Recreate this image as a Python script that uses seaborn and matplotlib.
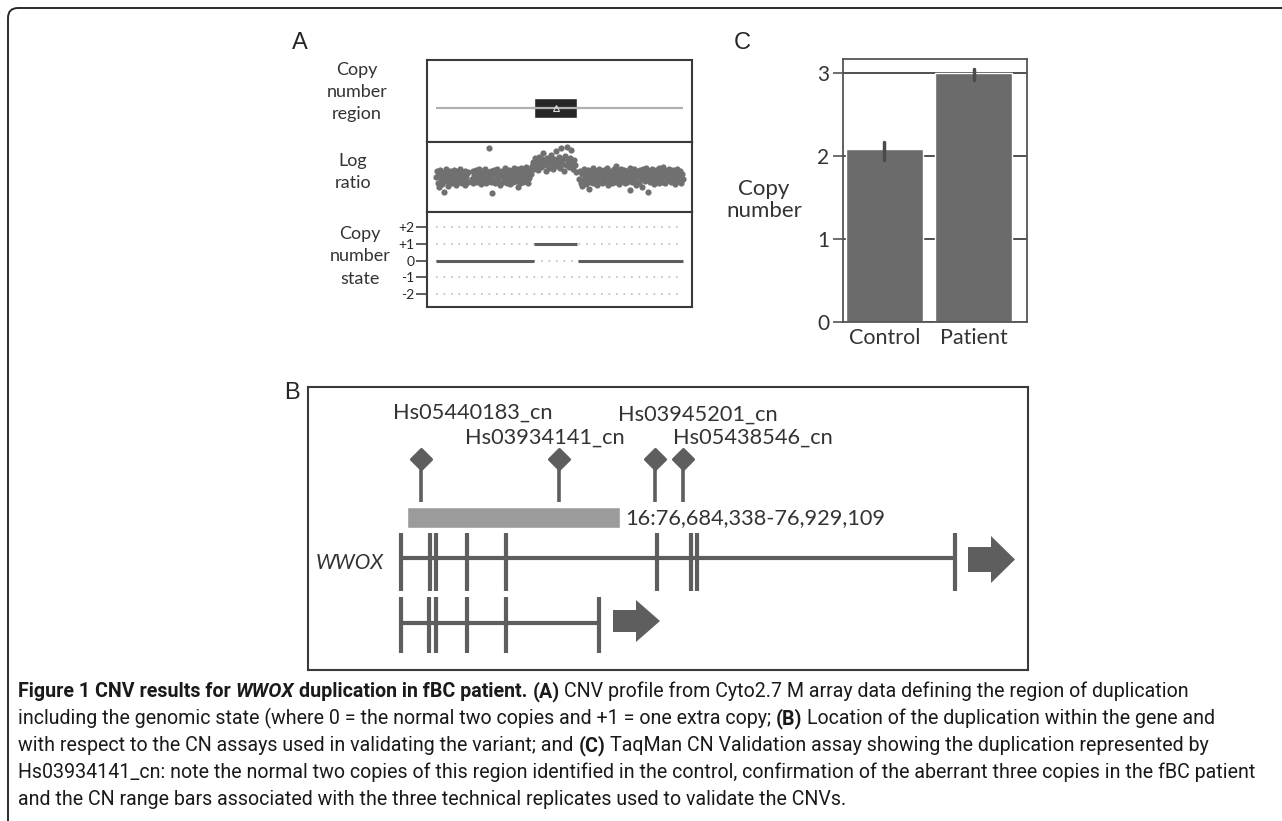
import matplotlib
matplotlib.use("Agg")
import matplotlib.pyplot as plt
import matplotlib.patches as mpatches
from matplotlib.markers import MarkerStyle
from matplotlib import font_manager as fm
import seaborn as sns
import pandas as pd

W, H = 1282, 821

# ---- panel A: CNV profile (x in % of the displayed window) ----
dup_region = (39.7, 57.1)
state_levels = [2, 1, 0, -1, -2]
state_labels = ["+2", "+1", "0", "-1", "-2"]
state_segments = [(0.0, 39.7, 0), (39.7, 57.1, 1), (57.5, 100.0, 0)]
log_ratio_pts = [
    (0.2, -0.02), (0.5, 0.08), (0.8, -0.12), (1.1, 0.03), (1.4, -0.20), (1.7, 0.10), (2.0, -0.06), (2.3, 0.05),
    (2.6, -0.14), (2.9, 0.01), (3.2, -0.27), (3.5, 0.07), (3.8, -0.09), (4.1, 0.11), (4.4, -0.03), (4.7, -0.17),
    (5.0, 0.04), (5.3, -0.11), (5.6, 0.09), (5.9, -0.05), (6.2, 0.02), (6.5, -0.13), (6.8, 0.06), (7.1, -0.08),
    (7.4, 0.10), (7.7, -0.01), (8.0, -0.15), (8.3, 0.05), (8.6, -0.06), (8.9, 0.08), (9.2, -0.10), (9.5, 0.00),
    (9.8, 0.12), (10.1, -0.04), (10.4, -0.12), (10.7, 0.06), (11.0, -0.07), (11.3, 0.03), (11.6, -0.16), (11.9, 0.09),
    (12.2, -0.02), (12.5, 0.04), (12.8, -0.10), (13.1, 0.07), (14.6, -0.05), (14.9, 0.08), (15.2, -0.13), (15.5, 0.02),
    (15.8, -0.07), (16.1, 0.10), (16.4, -0.03), (16.7, -0.11), (17.0, 0.05), (17.3, -0.08), (17.6, 0.12), (17.9, -0.01),
    (18.2, -0.14), (18.5, 0.06), (18.8, -0.05), (19.1, 0.09), (19.4, -0.09), (19.7, 0.01), (20.0, 0.11), (20.3, -0.12),
    (20.6, 0.04), (20.9, -0.06), (21.2, 0.07), (21.5, 0.47), (21.8, -0.02), (22.1, -0.10), (22.4, 0.08), (22.8, -0.29),
    (23.1, 0.03), (23.4, -0.07), (23.7, 0.10), (24.0, -0.13), (24.3, 0.05), (24.6, -0.04), (24.9, 0.12), (25.2, -0.09),
    (25.5, 0.02), (25.8, -0.15), (26.1, 0.07), (26.4, -0.01), (26.7, 0.09), (27.0, -0.11), (27.3, 0.04), (27.6, -0.06),
    (27.9, 0.13), (28.2, -0.08), (28.5, 0.01), (28.8, -0.12), (29.1, 0.06), (29.4, -0.03), (29.7, 0.10), (30.0, -0.14),
    (30.3, 0.03), (30.6, -0.05), (30.9, 0.08), (31.2, -0.10), (31.5, 0.14), (31.8, -0.02), (32.1, 0.05), (32.4, -0.09),
    (32.7, 0.11), (33.0, -0.06), (33.3, -0.20), (33.6, 0.07), (33.9, -0.12), (34.2, 0.02), (34.5, 0.13), (34.8, -0.04),
    (35.1, 0.09), (35.4, -0.10), (35.7, 0.04), (36.0, -0.07), (36.3, 0.15), (36.6, -0.01), (36.9, 0.10), (37.2, -0.13),
    (37.5, 0.06), (37.8, -0.03), (38.1, 0.12), (38.4, 0.03),
    (39.0, 0.16), (39.4, 0.24), (39.8, 0.12), (40.2, 0.30), (40.6, 0.19), (41.0, 0.26), (41.4, 0.10), (41.8, 0.33),
    (42.2, 0.21), (42.6, 0.15), (43.0, 0.28), (43.4, 0.39), (43.8, 0.18), (44.2, 0.24), (44.6, 0.08), (45.0, 0.31),
    (45.4, 0.22), (45.8, 0.14), (46.2, 0.27), (46.6, 0.35), (47.0, 0.20), (47.4, 0.11), (47.8, 0.29), (48.2, 0.23),
    (48.6, 0.42), (49.0, 0.17), (49.4, 0.26), (49.8, 0.32), (50.2, 0.13), (50.6, 0.47), (51.0, 0.21), (51.4, 0.28),
    (51.8, 0.09), (52.2, 0.34), (52.6, 0.19), (53.0, 0.50), (53.4, 0.25), (53.8, 0.15), (54.2, 0.30), (54.6, 0.44),
    (55.0, 0.20), (55.4, 0.12), (55.8, 0.27), (56.2, 0.18), (56.6, 0.06),
    (58.0, -0.05), (58.3, 0.09), (58.6, -0.12), (58.9, 0.03), (59.2, -0.18), (59.5, 0.07), (59.8, -0.08), (60.1, 0.11),
    (60.4, -0.02), (60.7, -0.14), (61.0, 0.05), (61.3, -0.06), (61.6, 0.10), (61.9, -0.22), (62.2, 0.01), (62.5, -0.10),
    (62.8, 0.08), (63.1, -0.03), (63.4, 0.13), (63.7, -0.12), (64.0, 0.04), (64.3, -0.07), (64.6, 0.09), (64.9, -0.01),
    (65.2, -0.15), (65.5, 0.06), (65.8, -0.05), (66.1, 0.12), (66.4, -0.09), (66.7, 0.02), (67.0, -0.13), (67.3, 0.07),
    (67.6, -0.04), (67.9, 0.10), (68.2, -0.11), (68.5, 0.03), (68.8, -0.06), (69.1, 0.14), (69.4, -0.02), (69.7, -0.16),
    (70.0, 0.05), (70.3, -0.08), (70.6, 0.09), (70.9, 0.00), (71.2, -0.12), (71.5, 0.06), (71.8, -0.03), (72.1, 0.11),
    (72.4, -0.10), (72.7, 0.02), (73.0, 0.16), (73.3, -0.06), (73.6, 0.08), (73.9, -0.14), (74.2, 0.04), (74.5, -0.01),
    (74.8, 0.12), (75.1, -0.09), (75.4, 0.03), (75.7, -0.05), (76.0, 0.10), (76.3, -0.13), (76.6, 0.06), (76.9, -0.02),
    (77.2, 0.09), (77.5, -0.10), (77.8, 0.04), (78.1, -0.07), (78.4, 0.13), (78.7, -0.25), (79.0, 0.01), (79.3, -0.11),
    (79.6, 0.07), (79.9, -0.04), (80.2, 0.11), (80.5, -0.08), (80.8, 0.03), (81.1, -0.15), (81.4, 0.08), (81.7, -0.01),
    (82.0, 0.05), (82.3, -0.12), (82.6, 0.10), (82.9, -0.06), (83.2, 0.02), (83.5, -0.20), (83.8, 0.12), (84.1, -0.03),
    (84.4, 0.06), (84.7, -0.09), (85.0, 0.14), (85.3, -0.05), (85.6, 0.03), (85.9, -0.28), (86.2, 0.09), (86.5, -0.11),
    (86.8, 0.01), (87.1, -0.07), (87.4, 0.11), (87.7, -0.02), (88.0, 0.06), (88.3, -0.14), (88.6, 0.04), (88.9, -0.06),
    (89.2, 0.10), (89.5, -0.09), (89.8, 0.02), (90.1, 0.13), (90.4, -0.12), (90.7, 0.05), (91.0, -0.04), (91.3, 0.08),
    (91.6, -0.10), (91.9, 0.15), (92.2, -0.01), (92.5, 0.06), (92.8, -0.13), (93.1, 0.09), (93.4, -0.05), (93.7, 0.03),
    (94.0, -0.08), (94.3, 0.12), (94.6, -0.02), (94.9, 0.07), (95.2, -0.11), (95.5, 0.04), (95.8, 0.10), (96.1, -0.06),
    (96.4, 0.01), (96.7, -0.14), (97.0, 0.08), (97.3, -0.03), (97.6, 0.11), (97.9, -0.09), (98.2, 0.05), (98.5, -0.01),
    (98.8, 0.09), (99.1, -0.12), (99.4, 0.03), (99.8, -0.05),
]

# ---- panel C: TaqMan CN assay, three technical replicates ----
groups = ["Control", "Patient"]
control_reps = [1.95, 2.12, 2.17]
patient_reps = [2.92, 3.02, 3.05]

# ---- panel B: gene schematic (x in schematic units) ----
probe_names = ["Hs05440183_cn", "Hs03934141_cn", "Hs03945201_cn", "Hs05438546_cn"]
probe_pos = [421, 559, 655, 683]
dup_span = (407, 620)
dup_label = "16:76,684,338-76,929,109"
wwox_exons = [401, 430, 436, 467, 506, 657, 691, 697, 955]
iso2_exons = [401, 429, 436, 467, 506, 599]

caption_lines = [
    [("Figure 1 CNV results for", "bold", "normal"), ("WWOX", "bold", "italic"),
     ("duplication in fBC patient.", "bold", "normal"), ("(A)", "bold", "normal"),
     ("CNV profile from Cyto2.7 M array data defining the region of duplication", "normal", "normal")],
    [("including the genomic state (where 0 = the normal two copies and +1 = one extra copy;", "normal", "normal"),
     ("(B)", "bold", "normal"), ("Location of the duplication within the gene and", "normal", "normal")],
    [("with respect to the CN assays used in validating the variant; and", "normal", "normal"),
     ("(C)", "bold", "normal"), ("TaqMan CN Validation assay showing the duplication represented by", "normal", "normal")],
    [("Hs03934141_cn: note the normal two copies of this region identified in the control, confirmation of the aberrant three copies in the fBC patient", "normal", "normal")],
    [("and the CN range bars associated with the three technical replicates used to validate the CNVs.", "normal", "normal")],
]

sns.set_style("white")
plt.rcParams["font.family"] = ["Lato", "DejaVu Sans"]
installed = {f.name for f in fm.fontManager.ttflist}
cap_font = "Liberation Sans Narrow" if "Liberation Sans Narrow" in installed else "Roboto"
letter_font = "Liberation Sans"

DARK = "#5e5e5e"
EDGE = "#3a3a3a"

fig = plt.figure(figsize=(W / 100, H / 100), dpi=100)
cv = fig.add_axes([0, 0, 1, 1])
cv.set_xlim(0, W)
cv.set_ylim(H, 0)
cv.axis("off")


def px_axes(x0, y0, x1, y1):
    return fig.add_axes([x0 / W, 1 - y1 / H, (x1 - x0) / W, (y1 - y0) / H])


def frame(ax, color=EDGE, lw=1.5):
    for s in ax.spines.values():
        s.set_visible(True)
        s.set_color(color)
        s.set_linewidth(lw)


# outer frame (rounded top-left corner, runs off the right and bottom)
cv.add_patch(mpatches.FancyBboxPatch((8, 8), 1400, 1000, boxstyle="round,pad=0,rounding_size=10",
                                     fill=False, ec="#2b2b2b", lw=1.4))

# ---------------- panel A ----------------
xl = (-3.6, 103.6)
axr = px_axes(427, 60, 692, 142)
axr.hlines(0.415, 0, 100, color="#b0b0b0", lw=1.6)
axr.barh(0.415, dup_region[1] - dup_region[0], left=dup_region[0], height=0.245, color="#262626")
axr.plot([(dup_region[0] + dup_region[1]) / 2], [0.415], marker="^", ms=4, mfc="none", mec="#dddddd", mew=0.8)
axr.set_xlim(*xl)
axr.set_ylim(0, 1)

axl = px_axes(427, 142, 692, 212)
lr = pd.DataFrame(log_ratio_pts, columns=["pos", "ratio"])
sns.scatterplot(data=lr, x="pos", y="ratio", ax=axl, s=20, color="#707070", linewidth=0, legend=False)
axl.set_xlim(*xl)
axl.set_ylim(-0.62, 0.58)

axs = px_axes(427, 212, 692, 307)
for lvl in state_levels:
    axs.hlines(lvl, 0, 100, color="#bdbdbd", lw=1.2, linestyles=(0, (1, 3.5)))
for x0, x1, lvl in state_segments:
    axs.hlines(lvl, x0, x1, color=DARK, lw=2.2)
axs.set_xlim(*xl)
axs.set_ylim(-2.78, 2.9)
axs.set_yticks(state_levels)
axs.set_yticklabels(state_labels)
axs.tick_params(axis="y", direction="out", length=8, width=1.2, color="#444", labelsize=10, pad=1, left=True)

for ax in (axr, axl, axs):
    ax.set_xticks([])
    ax.set_xlabel("")
    ax.set_ylabel("")
    frame(ax)
for ax in (axr, axl):
    ax.set_yticks([])

cv.text(300, 43, "A", fontsize=17, family=letter_font, ha="center", va="center")
cv.text(357, 92, "Copy\nnumber\nregion", fontsize=13, ha="center", va="center", linespacing=1.5, color="#333")
cv.text(353, 172, "Log\nratio", fontsize=13, ha="center", va="center", linespacing=1.5, color="#333")
cv.text(360, 256, "Copy\nnumber\nstate", fontsize=13, ha="center", va="center", linespacing=1.5, color="#333")

# ---------------- panel C ----------------
axc = px_axes(843, 59, 1027, 322)
cn = pd.DataFrame({"group": ["Control"] * len(control_reps) + ["Patient"] * len(patient_reps),
                   "cn": control_reps + patient_reps})
sns.barplot(data=cn, x="group", y="cn", order=groups, ax=axc, color="#6b6b6b", saturation=1,
            width=0.865, errorbar=("pi", 100), err_kws={"color": "#4a4a4a", "linewidth": 2.5})
axc.set_xlim(-0.466, 1.601)
axc.set_ylim(0, 3.17)
axc.set_yticks([0, 1, 2, 3])
axc.set_axisbelow(True)
axc.grid(axis="y", color="#505050", lw=1.4)
axc.grid(axis="x", visible=False)
axc.tick_params(axis="y", direction="out", length=7, width=1.2, color="#555", labelsize=15, pad=3, left=True)
axc.tick_params(axis="x", length=0, labelsize=15.5, pad=4)
axc.set_xlabel("")
axc.set_ylabel("")
frame(axc, "#555", 1.3)
for lab in axc.get_xticklabels() + axc.get_yticklabels():
    lab.set_color("#333")

cv.text(742, 43, "C", fontsize=17, family=letter_font, ha="center", va="center")
cv.text(764, 200, "Copy\nnumber", fontsize=16, ha="center", va="center", linespacing=1.15, color="#333")

# ---------------- panel B ----------------
axb = px_axes(308, 387, 1028, 670)
axb.set_xlim(308, 1028)
axb.set_ylim(670, 387)
axb.set_xticks([])
axb.set_yticks([])
frame(axb)

label_left = [393, 465, 618, 673]
label_y = [413, 438, 415, 438]
for name, lx, ly in zip(probe_names, label_left, label_y):
    axb.text(lx, ly, name, fontsize=15.7, ha="left", va="center", color="#333")
axb.vlines(probe_pos, 459, 502, color=DARK, lw=2.6)
axb.plot(probe_pos, [459] * len(probe_pos), ls="none", marker=MarkerStyle("D", joinstyle="round"),
         ms=10.5, color=DARK, mew=2.2)

axb.barh(517.5, dup_span[1] - dup_span[0], left=dup_span[0], height=21, color="#9b9b9b")
axb.text(625, 518, dup_label, fontsize=15.7, ha="left", va="center", color="#333")

axb.hlines(558, wwox_exons[0], wwox_exons[-1], color=DARK, lw=3)
axb.vlines(wwox_exons, 533, 591, color=DARK, lw=3)
axb.add_patch(mpatches.FancyArrow(968, 559.5, 47, 0, width=25, head_width=47, head_length=24,
                                  length_includes_head=True, color=DARK, lw=0))
axb.text(384, 563, "WWOX", fontsize=15, style="italic", ha="right", va="center", color="#333")

axb.hlines(623, iso2_exons[0], iso2_exons[-1], color=DARK, lw=3)
axb.vlines(iso2_exons, 597, 653, color=DARK, lw=3)
axb.add_patch(mpatches.FancyArrow(613, 621, 47, 0, width=22, head_width=42, head_length=24,
                                  length_includes_head=True, color=DARK, lw=0))

cv.text(292, 393, "B", fontsize=17, family=letter_font, ha="center", va="center")

# ---------------- caption ----------------
renderer = fig.canvas.get_renderer()


def text_w(s, size, weight="normal", style="normal"):
    t = cv.text(0, 0, s, fontsize=size, fontweight=weight, fontstyle=style, family=cap_font)
    w = t.get_window_extent(renderer).width
    t.remove()
    return w


# pick a size so that the longest line spans the same width as in the figure
probe = caption_lines[3][0][0]
cap_size = 13.0 * 1233 / text_w(probe, 13.0)
space_w = text_w("x x", cap_size) - text_w("xx", cap_size)

for i, pieces in enumerate(caption_lines):
    x = 18
    y = 697 + i * 27
    for j, (s, weight, style) in enumerate(pieces):
        t = cv.text(x, y, s, fontsize=cap_size, fontweight=weight, fontstyle=style, family=cap_font,
                    ha="left", va="baseline", color="#1a1a1a")
        x += t.get_window_extent(renderer).width + space_w

fig.savefig("out.png", dpi=100)
